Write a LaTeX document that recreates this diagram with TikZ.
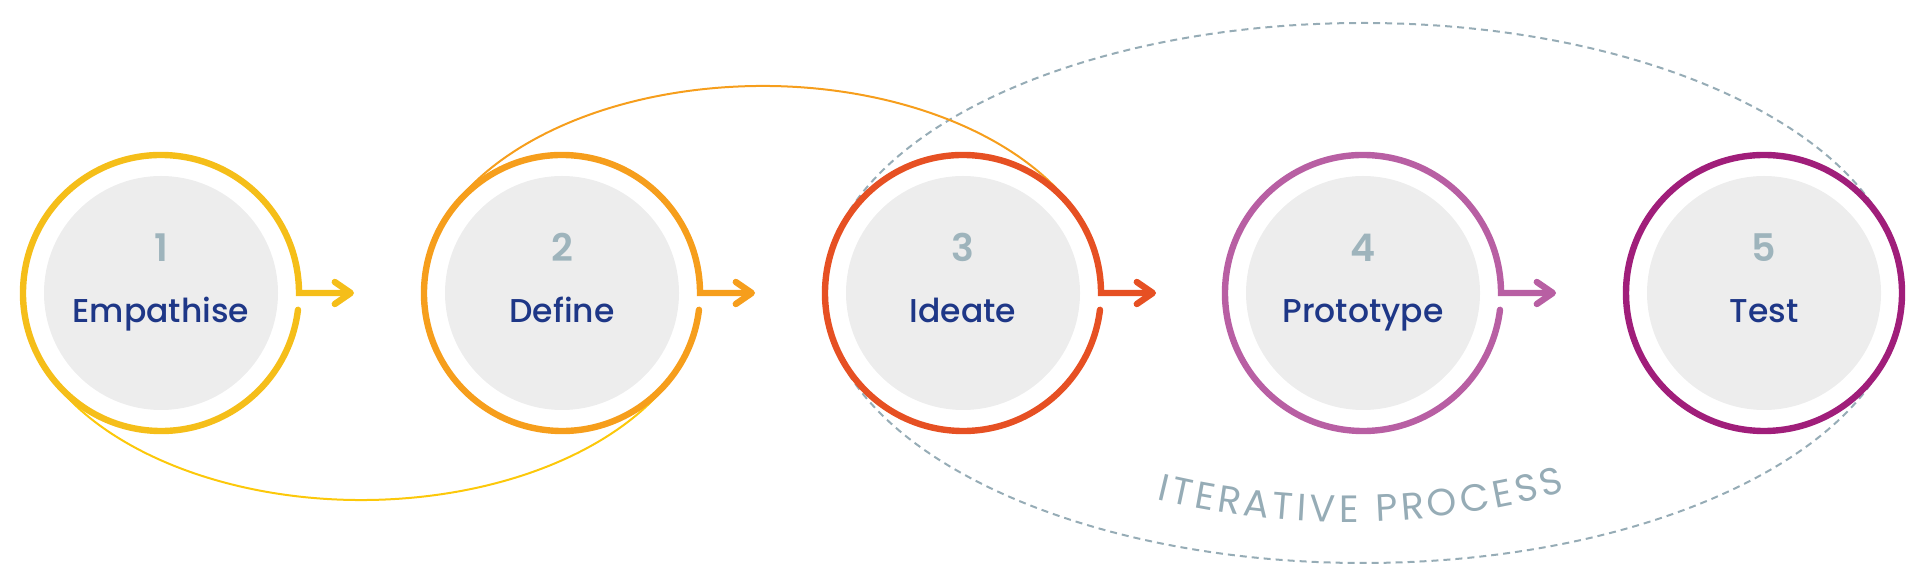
\documentclass[tikz,border=0pt]{standalone}
\usepackage{fontspec}
\setmainfont{Poppins}[UprightFont=* Medium, BoldFont=* SemiBold]
\newfontfamily\iterfamily{Poppins}
\usetikzlibrary{arrows.meta,calc,decorations.text}

\definecolor{empathc}{RGB}{245,190,25}
\definecolor{definec}{RGB}{246,158,28}
\definecolor{ideatec}{RGB}{230,80,35}
\definecolor{protoc}{RGB}{184,95,163}
\definecolor{testc}{RGB}{160,30,122}
\definecolor{loopyellow}{RGB}{252,200,10}
\definecolor{discgray}{RGB}{237,237,237}
\definecolor{numgray}{RGB}{158,180,188}
\definecolor{labelblue}{RGB}{30,55,135}
\definecolor{dashgray}{RGB}{150,172,182}

\newcommand{\iterfont}{\iterfamily\fontsize{19}{22}\selectfont}

\tikzset{
  disc/.style={circle, fill=discgray, minimum size=117pt, inner sep=0pt},
  ring/.style={line width=3.2pt, line cap=round},
  stepnum/.style={anchor=base, text=numgray, font=\fontsize{19}{22}\selectfont\bfseries},
  steplabel/.style={anchor=base, text=labelblue, font=\fontsize{16.5}{20}\selectfont},
  flow/.style={-{Straight Barb[length=8pt,width=11pt,round]}},
  loopline/.style={line width=1pt},
}

\begin{document}
\begin{tikzpicture}[x=0.5pt,y=0.5pt]
\useasboundingbox (0,0) rectangle (1920,588);

% stages
\node[disc] (empathise) at (161,295) {};
\node[disc] (define) at (562,295) {};
\node[disc] (ideate) at (963,295) {};
\node[disc] (prototype) at (1363,295) {};
\node[disc] (test) at (1764,295) {};

\node[stepnum] (n1) at ([yshift=15.5pt]empathise.center) {1};
\node[stepnum] (n2) at ([yshift=15.5pt]define.center) {2};
\node[stepnum] (n3) at ([yshift=15.5pt]ideate.center) {3};
\node[stepnum] (n4) at ([yshift=15.5pt]prototype.center) {4};
\node[stepnum] (n5) at ([yshift=15.5pt]test.center) {5};

\node[steplabel] (l1) at ([yshift=-15pt]empathise.center) {Empathise};
\node[steplabel] (l2) at ([yshift=-15pt]define.center) {Define};
\node[steplabel] (l3) at ([yshift=-15pt]ideate.center) {Ideate};
\node[steplabel] (l4) at ([yshift=-15pt]prototype.center) {Prototype};
\node[steplabel] (l5) at ([yshift=-15pt]test.center) {Test};

% loops behind the rings
\draw[dashgray, line width=1pt, dash pattern=on 3.5pt off 2.5pt]
  (prototype.center) ellipse[x radius=269.5pt, y radius=135pt];
\draw[loopline, loopyellow]
  ($($(empathise)!0.5!(define)$)+(190:170.25pt and 103.5pt)$)
  arc[start angle=190, end angle=350, x radius=170.25pt, y radius=103.5pt];
\draw[loopline, definec]
  ($($(define)!0.5!(ideate)$)+(10:170.25pt and 103.5pt)$)
  arc[start angle=10, end angle=170, x radius=170.25pt, y radius=103.5pt];

\path[decorate, decoration={text along path, text align=fit to path,
    text color=dashgray, text={|\iterfont|ITERATIVE PROCESS}}]
  (1156.4,88.9) arc[start angle=256.3, end angle=285.7, radius=402.5pt];

% rings and arrows
\coordinate (a1) at (354,295);
\coordinate (a2) at (755,295);
\coordinate (a3) at (1156,295);
\coordinate (a4) at (1556,295);

\draw[ring, flow, empathc] ([shift={(-7:69pt)}]empathise.center)
  arc[start angle=-7, end angle=-360, radius=69pt] -- (a1);
\draw[ring, flow, definec] ([shift={(-7:69pt)}]define.center)
  arc[start angle=-7, end angle=-360, radius=69pt] -- (a2);
\draw[ring, flow, ideatec] ([shift={(-7:69pt)}]ideate.center)
  arc[start angle=-7, end angle=-360, radius=69pt] -- (a3);
\draw[ring, flow, protoc] ([shift={(-7:69pt)}]prototype.center)
  arc[start angle=-7, end angle=-360, radius=69pt] -- (a4);
\draw[ring, testc] (test.center) circle[radius=69pt];
\end{tikzpicture}
\end{document}
